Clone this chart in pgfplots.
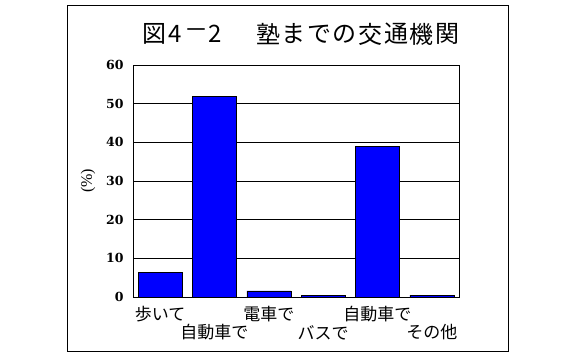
\documentclass[border=0pt]{standalone}
\usepackage{pgfplots}
\pgfplotsset{compat=1.18}
\usepackage{fontspec}
\setmainfont{Liberation Serif}
\newfontfamily\jp{Noto Sans CJK JP}
\newfontfamily\tickf{DejaVu Serif}
\definecolor{barblue}{RGB}{0,0,255}
\begin{document}
\begin{tikzpicture}[x=1pt,y=1pt]
\useasboundingbox (0,0) rectangle (576,357);
\draw[line width=0.9pt] (67.5,5.5) rectangle (508,351.5);
\begin{scope}[every node/.style={font=\jp\fontsize{24}{26}\selectfont, inner sep=0pt, anchor=center}]
\foreach \c/\x in {図/154, 4/175.5, －/196, 2/215.5, 塾/268, ま/293.6, で/319.2, の/344.8, 交/370.4, 通/396, 機/421.6, 関/447.2}
  \node at (\x,323) {\makebox[19pt]{\c}};
\end{scope}
\begin{axis}[
 at={(133pt,60pt)}, anchor=south west,
 scale only axis, width=326pt, height=232pt,
 xmin=-0.5, xmax=5.5, ymin=0, ymax=60,
 ytick={0,10,...,60},
 xtick={0,2,4}, xticklabels={歩いて,電車で,自動車で},
 extra x ticks={1,3,5}, extra x tick labels={自動車で,バスで,その他},
 extra x tick style={tick label style={yshift=-18pt}},
 xticklabel style={font=\jp\fontsize{17}{18}\selectfont, inner sep=0pt, anchor=center, yshift=-17.5pt},
 yticklabel style={font=\tickf\bfseries\fontsize{12.5}{13}\selectfont, xshift=-6pt},
 /pgf/number format/assume math mode=true,
 ymajorgrids, major grid style={black, line width=0.6pt},
 major tick length=0pt,
 axis line style={line width=0.6pt},
 ylabel={(\%)},
 ylabel style={font=\fontsize{16}{17}\selectfont, yshift=4pt},
]
\addplot[ybar, bar width=0.81, fill=barblue, draw=black, line width=0.6pt]
 coordinates {(0,6.4) (1,51.8) (2,1.6) (3,0.5) (4,38.9) (5,0.5)};
\end{axis}
\end{tikzpicture}
\end{document}
